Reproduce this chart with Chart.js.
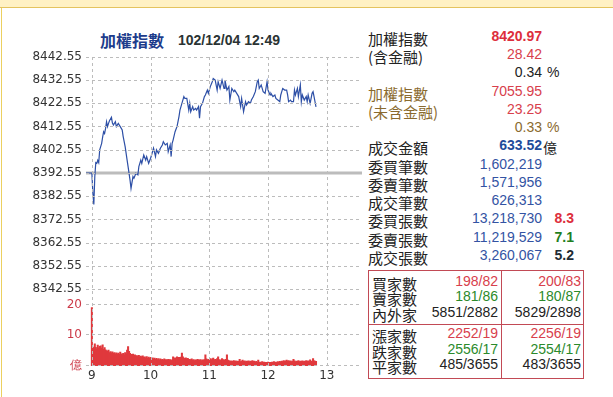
<!DOCTYPE html>
<html>
<head>
<meta charset="utf-8">
<script src="https://cdn.jsdelivr.net/npm/chart.js@4"></script>
<style>
  body { margin: 0; width: 613px; height: 397px; overflow: hidden; background: #fff; position: relative; }
  .band { position: absolute; left: 0; top: 0; width: 613px; height: 7px; background: #fff1c4; border-bottom: 1px solid #e4c35f; }
  .lborder { position: absolute; left: 1px; top: 8px; width: 1px; height: 389px; background: #ecd060; }
  #wrap { position: absolute; left: 2px; top: 9px; width: 360px; height: 388px; }
  #taiexChart { position: absolute; left: 0; top: 0; }
  #gridLayer { position: absolute; left: 0; top: 0; width: 360px; height: 388px; pointer-events: none; }
  .gv { position: absolute; width: 1px; background: repeating-linear-gradient(to bottom, #bcbcbc 0 3px, transparent 3px 6px); }
  .gh { position: absolute; height: 1px; background: repeating-linear-gradient(to right, #bcbcbc 0 3px, transparent 3px 6px); }
  .title { position: absolute; top: 31px; white-space: nowrap; }
  .t1 { left: 100px; font: bold 16px 'Noto Sans CJK TC'; color: #1d3c8c; line-height: 18px; }
  .t2 { left: 178px; font: bold 14px 'Liberation Sans'; color: #2a3333; line-height: 18px; }
  .row { position: absolute; left: 368px; width: 240px; height: 18px; line-height: 18px; white-space: nowrap; }
  .lab { position: absolute; left: 0; font: 15px 'Noto Sans CJK TC'; color: #222; }
  .num { position: absolute; right: 66px; font: 14px 'Liberation Sans'; color: #3353a3; }
  .suf { position: absolute; left: 175px; font: 14px 'Liberation Sans', 'Noto Sans CJK TC'; color: #2a3333; }
  .ext { position: absolute; right: 34px; font: bold 14px 'Liberation Sans'; }
  .box { position: absolute; left: 368px; top: 270px; width: 214px; height: 107px; border: 1px solid #c24a55; }
  .vline { position: absolute; left: 132px; top: 0; width: 1px; height: 107px; background: #c24a55; }
  .hline { position: absolute; left: 0; top: 53px; width: 214px; height: 1px; background: #c24a55; }
  .brow { position: absolute; left: 3px; width: 210px; height: 16px; line-height: 16px; white-space: nowrap; }
  .blab { position: absolute; left: 0; font: 15px 'Noto Sans CJK TC'; color: #222; }
  .bv1 { position: absolute; right: 84px; font: 14px 'Liberation Sans'; }
  .bv2 { position: absolute; right: 1px; font: 14px 'Liberation Sans'; }
  .red { color: #d8404c; } .bred { color: #dd2e3c; font-weight: bold; }
  .green { color: #2b8a2b; } .bgreen { color: #1f7f1f; font-weight: bold; }
  .brown { color: #8a6a2e; } .dark { color: #222; } .bdark { color: #1f2b33; font-weight: bold; }
  .bblue { color: #1f4b9b; font-weight: bold; }
</style>
</head>
<body>
<div class="band"></div>
<div class="lborder"></div>
<div class="title t1">加權指數</div>
<div class="title t2">102/12/04 12:49</div>
<div id="wrap"><canvas id="taiexChart" width="360" height="388"></canvas><div id="gridLayer"></div></div>
<div id="table"></div>
<div class="box" id="box"><div class="vline"></div><div class="hline"></div></div>

<script>
// minutes after 09:00
const priceMinutes = [
  -6, 0, 1, 2, 3, 4, 5, 6, 7, 8, 9, 10, 11, 12, 13, 14, 15, 16, 17, 18, 20, 21, 22, 24, 25, 27, 29,
  31, 32, 34, 36, 37, 38, 39, 40, 42, 43, 45, 47, 48, 50, 51, 53, 55, 56, 58, 60, 61, 63, 65, 66,
  68, 70, 72, 73, 75, 77, 78, 80, 81, 82, 83, 85, 87, 89, 90, 92, 94, 95, 97, 99, 100, 101, 103,
  104, 106, 107, 109, 110, 111, 113, 115, 116, 118, 119, 121, 123, 124, 126, 128, 129, 131, 133,
  135, 136, 138, 140, 141, 143, 145, 146, 148, 150, 152, 153, 155, 157, 158, 160, 162, 163, 165,
  167, 169, 170, 171, 173, 175, 177, 179, 180, 182, 183, 185, 187, 188, 190, 192, 193, 195, 197,
  199, 200, 201, 203, 204, 206, 207, 208, 210, 211, 213, 214, 215, 217, 219, 220, 221, 223, 225,
  226, 227, 229
];
const prices = [
  8392.55, 8392.55, 8384.0, 8379.0, 8391.0, 8397.0, 8396.7, 8398.0, 8397.0, 8402.5, 8403.9, 8405.3,
  8408.0, 8410.3, 8409.5, 8411.7, 8414.6, 8412.5, 8413.9, 8415.0, 8416.5, 8414.0, 8413.2, 8414.6,
  8412.5, 8413.9, 8412.5, 8411.0, 8408.2, 8403.9, 8398.1, 8395.3, 8392.4, 8389.5, 8385.9, 8391.0,
  8390.3, 8392.4, 8391.7, 8395.3, 8398.1, 8396.7, 8400.3, 8398.1, 8399.6, 8396.7, 8398.9, 8400.3,
  8403.2, 8399.6, 8402.5, 8401.0, 8403.2, 8404.6, 8406.0, 8404.6, 8405.3, 8401.7, 8404.6, 8399.6,
  8405.3, 8406.7, 8410.3, 8412.5, 8416.8, 8419.6, 8422.5, 8425.4, 8424.6, 8424.6, 8419.6, 8422.5,
  8418.9, 8421.1, 8419.6, 8420.3, 8419.6, 8421.1, 8416.1, 8421.1, 8422.5, 8425.4, 8426.1, 8428.2,
  8426.8, 8429.7, 8431.8, 8433.2, 8432.5, 8428.2, 8431.8, 8428.9, 8432.5, 8428.9, 8432.5, 8428.2,
  8429.7, 8423.9, 8428.9, 8427.5, 8428.2, 8426.8, 8425.4, 8421.1, 8424.6, 8418.9, 8423.2, 8421.8,
  8423.2, 8422.5, 8423.9, 8425.4, 8427.5, 8431.8, 8432.5, 8428.9, 8430.4, 8427.5, 8426.8, 8431.8,
  8428.2, 8426.1, 8426.8, 8425.4, 8426.1, 8424.6, 8423.9, 8423.2, 8426.1, 8428.9, 8428.2, 8428.2,
  8426.1, 8423.2, 8423.9, 8423.2, 8423.2, 8428.2, 8426.1, 8428.9, 8425.4, 8430.4, 8423.2, 8426.1,
  8423.9, 8425.4, 8423.2, 8426.1, 8422.5, 8426.8, 8427.5, 8425.4, 8420.97
];
const prevClose = 8392.55;

// volume per minute from 09:00, in 億
const volumes = [
  19, 6.2, 5.8, 7.2, 6.1, 5.6, 6.8, 5.9, 6.4, 6.6,
  5.8, 6.9, 5.4, 6.0, 5.3, 5.0, 4.8, 5.2, 4.4, 4.7,
  4.3, 4.6, 4.1, 4.4, 4.0, 4.3, 3.9, 4.2, 3.8, 4.5,
  4.0, 3.7, 4.1, 3.6, 4.4, 3.9, 5.2, 6.3, 4.8, 4.1,
  3.8, 3.5, 3.9, 3.3, 3.6, 3.2, 3.4, 3.1, 3.5, 3.0,
  3.2, 2.9, 3.3, 2.8, 3.0, 2.7, 3.1, 2.6, 2.9, 2.5,
  2.8, 2.4, 2.7, 2.3, 2.6, 2.2, 2.5, 2.1, 2.4, 2.0,
  2.3, 2.0, 2.2, 1.9, 2.3, 2.0, 2.1, 1.9, 2.2, 2.0,
  2.1, 1.8, 2.0, 3.0, 2.4, 2.7, 2.3, 3.0, 2.5, 2.8,
  2.6, 2.9, 4.2, 3.0, 2.6, 2.4, 2.7, 2.3, 2.5, 2.2,
  2.2, 2.0, 2.3, 1.9, 2.1, 1.8, 2.0, 1.9, 2.2, 2.0,
  1.9, 2.1, 1.8, 2.0, 1.9, 2.1, 3.6, 2.3, 2.0, 2.2,
  1.9, 2.4, 2.0, 2.3, 2.6, 1.9, 2.2, 2.0, 2.4, 3.0,
  2.1, 1.8, 2.0, 2.4, 2.1, 1.9, 2.0, 2.2, 3.6, 1.9,
  1.8, 1.5, 1.7, 1.5, 1.6, 1.8, 1.5, 1.7, 1.4, 1.6,
  1.5, 2.2, 1.4, 1.6, 1.9, 1.5, 1.7, 1.4, 1.6, 1.5,
  1.7, 1.4, 1.6, 1.5, 1.8, 1.5, 1.6, 1.3, 1.5, 1.2,
  1.9, 1.2, 1.3, 1.1, 1.4, 1.2, 1.3, 1.1, 1.2, 1.0,
  1.3, 1.1, 1.2, 1.0, 1.3, 1.1, 1.4, 1.2, 1.3, 1.1,
  1.4, 1.2, 1.5, 1.3, 1.6, 1.4, 1.8, 1.5, 1.7, 1.9,
  1.6, 1.8, 1.5, 1.7, 1.4, 1.6, 2.2, 1.7, 1.4, 1.6,
  1.5, 1.8, 1.4, 1.6, 1.5, 1.7, 1.4, 1.6, 1.5, 1.8,
  1.5, 1.7, 1.4, 2.0, 1.6, 1.5, 2.4, 1.7, 1.6, 1.5
];

const priceTicks = [8342.55, 8352.55, 8362.55, 8372.55, 8382.55, 8392.55, 8402.55, 8412.55, 8422.55, 8432.55, 8442.55];
const volumeTicks = [0, 10, 20];
const volumeLabels = ['億', '10', '20'];
const hourTicks = [0, 60, 120, 180, 240];
const hourLabels = ['9', '10', '11', '12', '13'];

// right-hand table
const infoRows = [
  ['加權指數', 'dark', '8420.97', 'bred', '', '', '', ''],
  ['(含金融)', 'dark', '28.42', 'red', '', '', '', ''],
  ['', '', '0.34', 'dark', '\u00a0%', 'dark', '', ''],
  ['加權指數', 'brown', '7055.95', 'red', '', '', '', ''],
  ['(未含金融)', 'brown', '23.25', 'red', '', '', '', ''],
  ['', '', '0.33', 'brown', '\u00a0%', 'brown', '', ''],
  ['成交金額', 'dark', '633.52', 'bblue', '億', 'dark', '', ''],
  ['委買筆數', 'dark', '1,602,219', '', '', '', '', ''],
  ['委賣筆數', 'dark', '1,571,956', '', '', '', '', ''],
  ['成交筆數', 'dark', '626,313', '', '', '', '', ''],
  ['委買張數', 'dark', '13,218,730', '', '', '', '8.3', 'bred'],
  ['委賣張數', 'dark', '11,219,529', '', '', '', '7.1', 'bgreen'],
  ['成交張數', 'dark', '3,260,067', '', '', '', '5.2', 'bdark']
];
const boxRows = [
  ['買家數', '198/82', '200/83', 'red'],
  ['賣家數', '181/86', '180/87', 'green'],
  ['內外家', '5851/2882', '5829/2898', 'dark'],
  ['漲家數', '2252/19', '2256/19', 'red'],
  ['跌家數', '2556/17', '2554/17', 'green'],
  ['平家數', '485/3655', '483/3655', 'dark']
];

const table = document.getElementById('table');
infoRows.forEach((r, i) => {
  const d = document.createElement('div');
  d.className = 'row';
  d.style.top = (28 + i * 18.23) + 'px';
  d.innerHTML =
    '<span class="lab ' + r[1] + '">' + r[0] + '</span>' +
    '<span class="num ' + r[3] + '">' + r[2] + '</span>' +
    (r[4] ? '<span class="suf ' + r[5] + '">' + r[4] + '</span>' : '') +
    (r[6] ? '<span class="ext ' + r[7] + '">' + r[6] + '</span>' : '');
  table.appendChild(d);
});
const box = document.getElementById('box');
boxRows.forEach((r, i) => {
  const d = document.createElement('div');
  d.className = 'brow';
  d.style.top = (1.5 + i * 15.5 + (i > 2 ? 6 : 0)) + 'px';
  d.innerHTML =
    '<span class="blab">' + r[0] + '</span>' +
    '<span class="bv1 ' + r[3] + '">' + r[1] + '</span>' +
    '<span class="bv2 ' + r[3] + '">' + r[2] + '</span>';
  box.appendChild(d);
});

Chart.defaults.font.family = 'DejaVu Sans';
Chart.defaults.font.size = 12;
Chart.defaults.color = '#333';

const noGrid = () => ({ display: false, drawTicks: false, offset: false });
const noBorder = () => ({ display: false });

const ctx = document.getElementById('taiexChart').getContext('2d');
const chart = new Chart(ctx, {
  data: {
    datasets: [
      {
        type: 'line',
        data: priceMinutes.map((m, i) => ({ x: m, y: prices[i] })),
        borderColor: '#2d4fa6',
        borderWidth: 1.2,
        pointRadius: 0,
        tension: 0,
        fill: false,
        yAxisID: 'y',
        order: 1
      },
      {
        type: 'line',
        data: [{ x: -6, y: prevClose }, { x: 276, y: prevClose }],
        borderColor: '#bcbcbc',
        borderWidth: 3,
        pointRadius: 0,
        fill: false,
        yAxisID: 'y',
        order: 2
      },
      {
        type: 'bar',
        data: volumes.map((v, i) => ({ x: i, y: v })),
        backgroundColor: '#e0393d',
        barThickness: 1.4,
        yAxisID: 'vol',
        order: 3
      }
    ]
  },
  options: {
    responsive: false,
    animation: false,
    layout: { padding: { top: 47.7, bottom: 10.6, left: 0, right: 0 } },
    plugins: { legend: { display: false }, tooltip: { enabled: false } },
    scales: {
      x: {
        type: 'linear',
        offset: false,
        min: -6,
        max: 276,
        afterBuildTicks: s => { s.ticks = hourTicks.map(v => ({ value: v })); },
        ticks: { autoSkip: false, maxRotation: 0, callback: v => hourLabels[hourTicks.indexOf(v)], color: '#333' },
        grid: noGrid(),
        border: noBorder()
      },
      y: {
        position: 'left',
        stack: 'main',
        stackWeight: 3.03,
        weight: 2,
        min: 8342.55,
        max: 8442.55,
        afterBuildTicks: s => { s.ticks = priceTicks.map(v => ({ value: v })); },
        afterFit: s => { s.width = 84; },
        ticks: { autoSkip: false, padding: 4, callback: v => v.toFixed(2), color: '#333' },
        grid: noGrid(),
        border: noBorder()
      },
      vol: {
        position: 'left',
        stack: 'main',
        stackWeight: 1,
        weight: 1,
        min: 0,
        max: 25,
        afterBuildTicks: s => { s.ticks = volumeTicks.map(v => ({ value: v })); },
        afterFit: s => { s.width = 84; },
        ticks: { autoSkip: false, padding: 4, callback: v => volumeLabels[volumeTicks.indexOf(v)], color: '#cc3a48' },
        grid: noGrid(),
        border: noBorder()
      }
    }
  }
});

// dashed grid placed from the chart's own scale positions
const layer = document.getElementById('gridLayer');
const area = chart.chartArea;
function addLine(cls, left, top, len) {
  const d = document.createElement('div');
  d.className = cls;
  d.style.left = left + 'px';
  d.style.top = top + 'px';
  if (cls === 'gv') d.style.height = len + 'px'; else d.style.width = len + 'px';
  layer.appendChild(d);
}
hourTicks.forEach(v => {
  addLine('gv', Math.round(chart.scales.x.getPixelForValue(v)), area.top, area.bottom - area.top);
});
priceTicks.forEach(v => {
  addLine('gh', area.left, Math.round(chart.scales.y.getPixelForValue(v)), area.right - area.left);
});
volumeTicks.forEach(v => {
  addLine('gh', area.left, Math.round(chart.scales.vol.getPixelForValue(v)) - 1, area.right - area.left);
});
</script>
</body>
</html>
